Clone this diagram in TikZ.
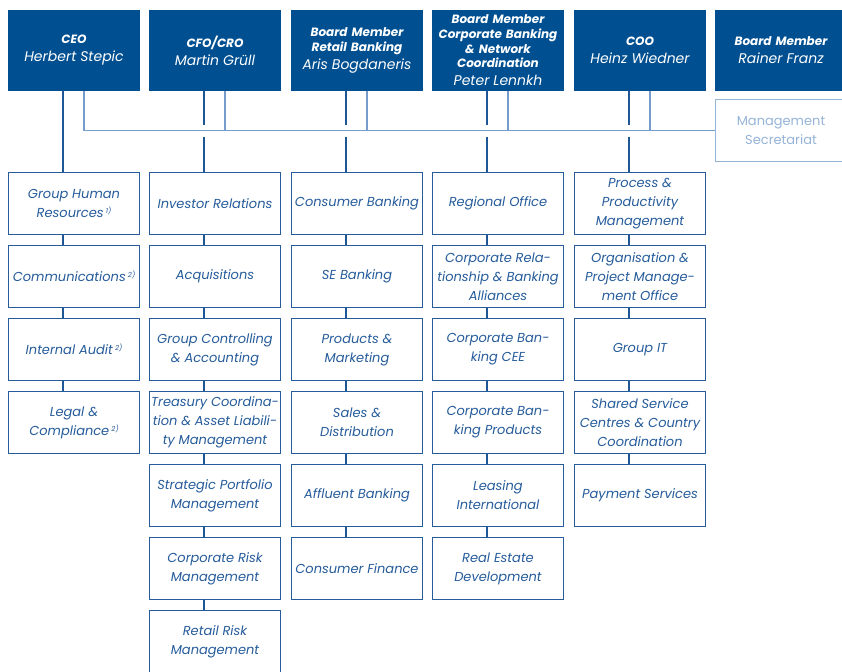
\documentclass[tikz,border=0pt]{standalone}
\usepackage{fontspec}
\setmainfont{Poppins}
\usetikzlibrary{positioning}
\usetikzlibrary{calc}

\definecolor{ebblue}{RGB}{0,80,145}
\definecolor{unitblue}{RGB}{38,92,155}
\definecolor{linkblue}{RGB}{30,86,150}
\definecolor{busblue}{RGB}{118,156,204}
\definecolor{secblue}{RGB}{150,180,216}

\begin{document}
\begin{tikzpicture}
  [
    x=1pt, y=-1pt,
    board/.style = {fill=ebblue, text=white, minimum width=132pt, minimum height=81pt,
                    text width=132pt, inner sep=0pt, align=center, font=\fontsize{12}{14.6}\selectfont},
    unit/.style  = {draw=unitblue, line width=1.3pt, text=unitblue, fill=white,
                    minimum width=131pt, minimum height=62pt, inner sep=0pt, align=center,
                    font=\fontsize{13}{19}\selectfont\itshape},
    secr/.style  = {draw=secblue, line width=1.3pt, text=secblue, fill=white,
                    minimum width=131pt, minimum height=62pt, inner sep=0pt, align=center,
                    font=\fontsize{13}{18.5}\selectfont},
    chain/.style = {draw=linkblue, line width=1.3pt},
    bus/.style   = {draw=busblue, line width=1.1pt},
  ]

  \newcommand{\role}[1]{{\bfseries\itshape #1}}
  \newcommand{\who}[1]{{\fontsize{14}{14.6}\selectfont\itshape #1}}
  \newcommand{\fn}[1]{\,{\fontsize{7}{7}\selectfont\raisebox{4pt}{#1)}}}

  \useasboundingbox (0,0) rectangle (842,671);
  \clip (0,0) rectangle (842,671);

  % the board
  \def\top{50.5}
  \node (ceo)       at (74,\top)  [board] {\role{CEO}\\[3.4pt]\who{Herbert Stepic}};
  \node (cfo)       at (215,\top) [board] {\role{CFO/CRO}\\[3.4pt]\who{Martin Grüll}};
  \node (retail)    at (357,\top) [board] {\role{Board Member}\\\role{Retail Banking}\\[3.4pt]\who{Aris Bogdaneris}};
  \node (corporate) at (498,\top) [board] {\role{Board Member}\\\role{Corporate Banking}\\\role{\& Network}\\\role{Coordination}\\[3.4pt]\who{Peter Lennkh}};
  \node (coo)       at (640,\top) [board] {\role{COO}\\[3.4pt]\who{Heinz Wiedner}};
  \node (franz)     at (781,\top) [board] {\role{Board Member}\\[3.4pt]\who{Rainer Franz}};

  \node (secretariat) at (781,130.5) [secr] {Management\\Secretariat};

  % the units, row by row
  \def\rA{203.5} \def\rB{276.5} \def\rC{349.5} \def\rD{422.5}
  \def\rE{495.5} \def\rF{568.5} \def\rG{641.5}

  \node (hr)    at (74,\rA) [unit] {Group Human\\Resources\fn{1}};
  \node (comm)  at (74,\rB) [unit] {Communications\fn{2}};
  \node (audit) at (74,\rC) [unit] {Internal Audit\fn{2}};
  \node (legal) at (74,\rD) [unit] {Legal \&\\Compliance\fn{2}};

  \node (ir)       at (215,\rA) [unit] {Investor Relations};
  \node (acq)      at (215,\rB) [unit] {Acquisitions};
  \node (ctrl)     at (215,\rC) [unit] {Group Controlling\\\& Accounting};
  \node (treasury) at (215,\rD) [unit] {Treasury Coordina-\\tion \& Asset Liabili-\\ty Management};
  \node (spm)      at (215,\rE) [unit] {Strategic Portfolio\\Management};
  \node (crm)      at (215,\rF) [unit] {Corporate Risk\\Management};
  \node (rrm)      at (215,\rG) [unit] {Retail Risk\\Management};

  \node (consumer) at (357,\rA) [unit] {Consumer Banking};
  \node (se)       at (357,\rB) [unit] {SE Banking};
  \node (products) at (357,\rC) [unit] {Products \&\\Marketing};
  \node (sales)    at (357,\rD) [unit] {Sales \&\\Distribution};
  \node (affluent) at (357,\rE) [unit] {Affluent Banking};
  \node (finance)  at (357,\rF) [unit] {Consumer Finance};

  \node (regional)   at (498,\rA) [unit] {Regional Office};
  \node (relations)  at (498,\rB) [unit] {Corporate Rela-\\tionship \& Banking\\Alliances};
  \node (cee)        at (498,\rC) [unit] {Corporate Ban-\\king CEE};
  \node (cbproducts) at (498,\rD) [unit] {Corporate Ban-\\king Products};
  \node (leasing)    at (498,\rE) [unit] {Leasing\\International};
  \node (realestate) at (498,\rF) [unit] {Real Estate\\Development};

  \node (process)      at (640,\rA) [unit] {Process \&\\Productivity\\Management};
  \node (organisation) at (640,\rB) [unit] {Organisation \&\\Project Manage-\\ment Office};
  \node (it)           at (640,\rC) [unit] {Group IT};
  \node (shared)       at (640,\rD) [unit] {Shared Service\\Centres \& Country\\Coordination};
  \node (payment)      at (640,\rE) [unit] {Payment Services};

  % the line to the secretariat
  \coordinate (line) at (secretariat.west);
  \draw[bus] (secretariat.west) -| ([xshift=10pt]ceo.south);
  \foreach \a in {cfo, retail, corporate, coo}
    \draw[bus] ([xshift=10pt]\a.south) -- ([xshift=10pt]\a.south |- line);

  % board member to first unit, broken where it crosses the line
  \draw[chain] ([xshift=-11pt]ceo.south) -- ([xshift=-11pt]hr.north);
  \foreach \a/\b in {cfo/ir, retail/consumer, corporate/regional, coo/process}
    \draw[chain] ([xshift=-11pt]\a.south) -- ([xshift=-11pt,yshift=5.5pt]\a.south |- line)
                 ([xshift=-11pt,yshift=-6.5pt]\a.south |- line) -- ([xshift=-11pt]\b.north);

  % units in each column
  \foreach \a/\b in {hr/comm, comm/audit, audit/legal,
                     ir/acq, acq/ctrl, ctrl/treasury, treasury/spm, spm/crm, crm/rrm,
                     consumer/se, se/products, products/sales, sales/affluent, affluent/finance,
                     regional/relations, relations/cee, cee/cbproducts, cbproducts/leasing, leasing/realestate,
                     process/organisation, organisation/it, it/shared, shared/payment}
    \draw[chain] ([xshift=-11pt]\a.south) -- ([xshift=-11pt]\b.north);

\end{tikzpicture}
\end{document}
